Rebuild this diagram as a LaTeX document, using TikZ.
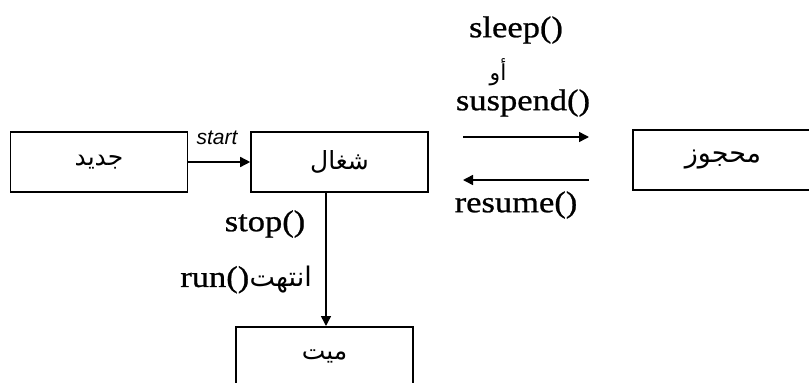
\documentclass[tikz,border=0pt]{standalone}
\usepackage{fontspec}
\setmainfont{Liberation Serif}
\TeXXeTstate=1
\newfontfamily\arabicfont[Script=Arabic]{DejaVu Sans}
\newfontfamily\latf[FakeStretch=1.15,FakeBold=0.8]{Liberation Serif}
\newfontfamily\sansf{Liberation Sans}
\usetikzlibrary{arrows.meta}
\tikzset{
  statebox/.style={draw, line width=1.6pt, minimum width=177pt, minimum height=60pt, inner sep=0pt,
    font=\arabicfont\fontsize{25}{28}\selectfont},
  lbl/.style={inner sep=0pt, font=\latf\fontsize{30}{32}\selectfont},
  arlbl/.style={inner sep=0pt, font=\arabicfont\fontsize{22}{24}\selectfont},
  conn/.style={line width=1.5pt, -{Triangle[length=10pt,width=10pt]}}
}
\begin{document}
\begin{tikzpicture}[x=1pt,y=-1pt]
\useasboundingbox (0,0) rectangle (809,383);
\begin{scope}
\clip (0,0) rectangle (809,383);
\node[statebox] (jadid) at (99,162) {\raisebox{-3pt}{\beginR جديد\endR}};
\node[statebox] (shughl) at (339.5,162) {\raisebox{-3pt}{\beginR شغال\endR}};
\node[statebox, minimum width=180pt] (mahjuz) at (723,160) {\raisebox{-3pt}{\fontsize{27}{28}\selectfont\beginR محجوز\endR}};
\node[statebox, anchor=north] (mayyit) at (324.5,326) {\beginR ميت\endR};
\end{scope}
\draw[conn] (jadid.east) -- (shughl.west);
\node[inner sep=0pt, font=\sansf\itshape\fontsize{21}{22}\selectfont] (start) at (217,138) {start};
\draw[conn] (shughl.south -| 326,0) -- (mayyit.north -| 326,0);
\node[lbl] (stop) at (265,224) {stop()};
\node[arlbl, font=\arabicfont\fontsize{27}{28}\selectfont, anchor=east] (intaha) at (312,280) {\beginR انتهت\endR};
\node[lbl, anchor=base east] (run) at (intaha.base west) {run()};
\coordinate (r1) at (463,137);
\coordinate (r2) at (589,137);
\coordinate (l1) at (589,180);
\coordinate (l2) at (463,180);
\draw[conn] (r1) -- (r2);
\draw[conn] (l1) -- (l2);
\node[lbl] (sleep) at (516,30) {sleep()};
\node[arlbl] (aw) at (498,72) {\beginR أو\endR};
\node[lbl] (suspend) at (523,103) {suspend()};
\node[lbl] (resume) at (516,205) {resume()};
\end{tikzpicture}
\end{document}
